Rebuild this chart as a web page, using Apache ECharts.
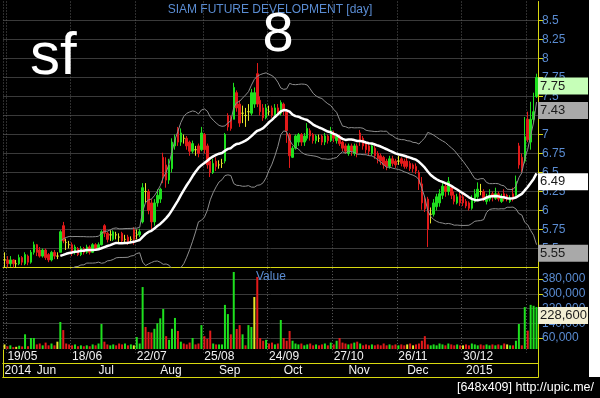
<!DOCTYPE html>
<html>
<head>
<meta charset="utf-8">
<title>SF daily</title>
<script src="https://cdn.jsdelivr.net/npm/echarts@6/dist/echarts.min.js"></script>
<style>
  html, body { margin: 0; padding: 0; background: #000; }
  #sfchart { width: 600px; height: 398px; }
</style>
</head>
<body>
<div id="sfchart"></div>
<script>
// SIAM FUTURE DEVELOPMENT (sf), daily bars 16/05/2014 - 06/02/2015
var holidays = ['2014-07-01', '2014-07-11', '2014-08-12', '2014-10-23', '2014-12-05',
  '2014-12-10', '2014-12-31', '2015-01-01', '2015-01-02'];
var tickDays = ['2014-05-19', '2014-06-18', '2014-07-22', '2014-08-25', '2014-09-24',
  '2014-10-27', '2014-11-26', '2014-12-30', '2015-02-03'];
var monthNames = ['Jan', 'Feb', 'Mar', 'Apr', 'May', 'Jun', 'Jul', 'Aug', 'Sep', 'Oct', 'Nov', 'Dec'];

var opens = [
  5.35, 5.35, 5.30, 5.35, 5.30, 5.30, 5.38, 5.30, 5.40, 5.32,
  5.45, 5.55, 5.48, 5.40, 5.48, 5.42, 5.35, 5.45, 5.40, 5.45,
  5.80, 5.58, 5.55, 5.55, 5.45, 5.50, 5.42, 5.50, 5.45, 5.52,
  5.45, 5.55, 5.50, 5.55, 5.80, 5.70, 5.68, 5.62, 5.68, 5.65,
  5.70, 5.62, 5.65, 5.62, 5.75, 5.68, 5.68, 5.85, 6.25, 6.25,
  6.10, 5.85, 6.10, 6.15, 6.70, 6.60, 6.40, 6.55, 6.85, 7.08,
  6.90, 6.95, 6.95, 6.90, 6.78, 6.80, 6.85, 6.80, 7.00, 6.85,
  6.65, 6.50, 6.65, 6.60, 6.62, 6.65, 7.25, 7.22, 7.20, 7.55,
  7.40, 7.28, 7.25, 7.30, 7.28, 7.40, 7.80, 7.45, 7.35, 7.22,
  7.30, 7.35, 7.25, 7.35, 7.28, 7.40, 7.30, 7.00, 6.70, 6.82,
  6.90, 7.00, 6.90, 6.95, 7.05, 7.00, 6.92, 6.95, 6.98, 6.90,
  6.98, 6.92, 7.02, 6.92, 6.98, 6.90, 6.85, 6.75, 6.85, 6.75,
  6.85, 7.02, 6.95, 6.88, 6.85, 6.75, 6.82, 6.75, 6.72, 6.70,
  6.65, 6.58, 6.68, 6.65, 6.65, 6.68, 6.65, 6.65, 6.62, 6.60,
  6.58, 6.50, 6.35, 6.15, 6.15, 5.95, 5.95, 6.05, 6.10, 6.20,
  6.32, 6.25, 6.30, 6.20, 6.10, 6.20, 6.18, 6.12, 6.10, 6.03,
  6.12, 6.18, 6.25, 6.25, 6.12, 6.15, 6.22, 6.16, 6.22, 6.12,
  6.22, 6.20, 6.12, 6.22, 6.20, 6.85, 6.70, 6.65, 7.20, 6.90,
  7.20, 7.50
];
var closes = [
  5.35, 5.30, 5.35, 5.30, 5.30, 5.38, 5.32, 5.42, 5.32, 5.45,
  5.55, 5.45, 5.40, 5.48, 5.38, 5.35, 5.45, 5.40, 5.40, 5.72,
  5.60, 5.58, 5.55, 5.45, 5.52, 5.42, 5.50, 5.45, 5.52, 5.45,
  5.55, 5.50, 5.55, 5.72, 5.70, 5.62, 5.68, 5.72, 5.68, 5.65,
  5.60, 5.62, 5.58, 5.62, 5.62, 5.68, 5.72, 6.30, 6.25, 6.00,
  5.85, 6.10, 6.20, 6.28, 6.45, 6.40, 6.60, 6.90, 6.95, 6.90,
  7.02, 6.95, 6.85, 6.78, 6.88, 6.80, 6.75, 7.02, 6.80, 6.60,
  6.50, 6.62, 6.58, 6.60, 6.62, 7.00, 7.10, 7.08, 7.62, 7.35,
  7.15, 7.28, 7.25, 7.30, 7.55, 7.55, 7.40, 7.30, 7.22, 7.35,
  7.30, 7.25, 7.35, 7.28, 7.42, 7.32, 7.05, 6.72, 6.82, 6.98,
  7.00, 6.90, 6.98, 7.08, 6.98, 6.92, 6.98, 6.95, 6.90, 6.98,
  6.92, 7.05, 6.95, 6.98, 6.88, 6.82, 6.78, 6.85, 6.78, 6.85,
  6.75, 6.92, 6.85, 6.80, 6.78, 6.85, 6.72, 6.68, 6.65, 6.60,
  6.58, 6.68, 6.62, 6.60, 6.65, 6.62, 6.58, 6.58, 6.55, 6.55,
  6.52, 6.35, 6.10, 6.02, 5.75, 5.95, 6.10, 6.18, 6.22, 6.32,
  6.25, 6.38, 6.20, 6.12, 6.18, 6.10, 6.10, 6.06, 6.03, 6.15,
  6.22, 6.28, 6.25, 6.15, 6.18, 6.20, 6.18, 6.22, 6.15, 6.16,
  6.15, 6.15, 6.16, 6.15, 6.38, 6.60, 6.55, 6.97, 6.93, 7.20,
  7.30, 7.75
];
var lows = [
  5.25, 5.25, 5.26, 5.25, 5.25, 5.28, 5.28, 5.28, 5.28, 5.30,
  5.42, 5.40, 5.38, 5.38, 5.35, 5.32, 5.33, 5.36, 5.36, 5.45,
  5.57, 5.48, 5.50, 5.40, 5.42, 5.40, 5.40, 5.42, 5.43, 5.42,
  5.44, 5.47, 5.48, 5.54, 5.65, 5.58, 5.60, 5.60, 5.62, 5.58,
  5.56, 5.56, 5.55, 5.57, 5.55, 5.62, 5.65, 5.83, 6.10, 5.95,
  5.74, 5.80, 6.05, 6.10, 6.36, 6.30, 6.35, 6.50, 6.80, 6.85,
  6.85, 6.88, 6.80, 6.72, 6.75, 6.72, 6.70, 6.78, 6.75, 6.55,
  6.44, 6.48, 6.52, 6.55, 6.56, 6.62, 7.05, 7.05, 7.20, 7.30,
  7.10, 7.15, 7.10, 7.18, 7.25, 7.35, 7.36, 7.25, 7.18, 7.20,
  7.25, 7.22, 7.22, 7.25, 7.25, 7.25, 6.89, 6.56, 6.69, 6.80,
  6.85, 6.85, 6.85, 6.92, 6.92, 6.88, 6.88, 6.90, 6.86, 6.86,
  6.88, 6.90, 6.90, 6.88, 6.85, 6.78, 6.75, 6.72, 6.72, 6.72,
  6.70, 6.85, 6.80, 6.75, 6.72, 6.72, 6.68, 6.62, 6.60, 6.55,
  6.53, 6.55, 6.58, 6.56, 6.60, 6.58, 6.55, 6.55, 6.52, 6.50,
  6.48, 6.27, 6.01, 5.98, 5.52, 5.83, 5.92, 6.00, 6.05, 6.15,
  6.18, 6.20, 6.15, 6.08, 6.08, 6.06, 6.06, 6.03, 6.00, 6.01,
  6.10, 6.15, 6.20, 6.12, 6.08, 6.12, 6.12, 6.14, 6.12, 6.10,
  6.12, 6.12, 6.10, 6.12, 6.18, 6.55, 6.50, 6.62, 6.90, 6.80,
  7.15, 7.48
];
var highs = [
  5.45, 5.40, 5.40, 5.36, 5.35, 5.42, 5.40, 5.45, 5.42, 5.48,
  5.59, 5.56, 5.52, 5.50, 5.50, 5.44, 5.47, 5.48, 5.45, 5.74,
  5.85, 5.63, 5.60, 5.58, 5.55, 5.52, 5.53, 5.52, 5.55, 5.54,
  5.57, 5.57, 5.58, 5.74, 5.82, 5.72, 5.74, 5.74, 5.72, 5.70,
  5.72, 5.68, 5.68, 5.66, 5.78, 5.75, 5.76, 6.36, 6.36, 6.28,
  6.15, 6.15, 6.28, 6.30, 6.76, 6.70, 6.68, 6.95, 7.00, 7.10,
  7.08, 7.00, 6.98, 6.92, 6.92, 6.85, 6.88, 7.10, 7.02, 6.88,
  6.70, 6.68, 6.70, 6.66, 6.68, 7.02, 7.28, 7.25, 7.68, 7.58,
  7.45, 7.38, 7.35, 7.40, 7.60, 7.62, 7.94, 7.50, 7.40, 7.40,
  7.38, 7.38, 7.40, 7.40, 7.45, 7.42, 7.32, 7.02, 6.85, 7.00,
  7.02, 7.02, 7.02, 7.15, 7.08, 7.02, 7.00, 7.00, 7.00, 7.02,
  7.00, 7.10, 7.05, 7.00, 7.00, 6.92, 6.88, 6.88, 6.88, 6.88,
  6.88, 7.06, 6.98, 6.90, 6.88, 6.88, 6.85, 6.78, 6.75, 6.72,
  6.68, 6.72, 6.72, 6.68, 6.72, 6.70, 6.68, 6.72, 6.65, 6.62,
  6.62, 6.53, 6.44, 6.18, 6.18, 6.04, 6.15, 6.22, 6.28, 6.38,
  6.35, 6.44, 6.32, 6.25, 6.22, 6.25, 6.22, 6.15, 6.12, 6.20,
  6.28, 6.37, 6.35, 6.28, 6.22, 6.28, 6.25, 6.30, 6.25, 6.22,
  6.28, 6.22, 6.20, 6.30, 6.46, 6.89, 6.75, 7.23, 7.30, 7.43,
  7.55, 7.80
];
var volumes = [
  25000, 15000, 20000, 10000, 12000, 18000, 14000, 80000, 15000, 60000,
  60000, 25000, 30000, 20000, 35000, 20000, 30000, 20000, 40000, 147000,
  103000, 30000, 25000, 20000, 25000, 15000, 20000, 15000, 20000, 15000,
  25000, 20000, 30000, 136000, 40000, 25000, 20000, 25000, 20000, 30000,
  25000, 30000, 20000, 25000, 20000, 65000, 30000, 337000, 120000, 93000,
  90000, 110000, 140000, 167000, 218000, 70000, 50000, 110000, 169000, 98000,
  40000, 30000, 25000, 35000, 60000, 25000, 30000, 130000, 70000, 55000,
  100000, 30000, 25000, 25000, 25000, 240000, 190000, 80000, 419000, 109000,
  130000, 80000, 20000, 130000, 120000, 283000, 392000, 60000, 45000, 50000,
  30000, 35000, 25000, 30000, 158000, 60000, 45000, 98000, 45000, 30000,
  25000, 30000, 20000, 25000, 30000, 20000, 25000, 20000, 25000, 30000,
  20000, 35000, 25000, 45000, 60000, 35000, 30000, 25000, 30000, 35000,
  40000, 30000, 20000, 25000, 20000, 25000, 20000, 25000, 20000, 30000,
  20000, 25000, 20000, 25000, 20000, 25000, 20000, 25000, 30000, 20000,
  25000, 30000, 45000, 70000, 25000, 20000, 25000, 20000, 30000, 25000,
  20000, 30000, 25000, 20000, 25000, 20000, 20000, 25000, 20000, 30000,
  25000, 20000, 25000, 20000, 25000, 20000, 25000, 20000, 25000, 20000,
  30000, 25000, 20000, 20000, 45000, 136000, 20000, 228000, 100000, 240000,
  235000, 228600
];

// trading days
var dates = [];
(function () {
  var d = new Date(Date.UTC(2014, 4, 16));
  var end = Date.UTC(2015, 1, 6);
  while (d.getTime() <= end) {
    var iso = d.toISOString().slice(0, 10);
    var wd = d.getUTCDay();
    if (wd !== 0 && wd !== 6 && holidays.indexOf(iso) < 0) dates.push(iso);
    d.setUTCDate(d.getUTCDate() + 1);
  }
})();

// bollinger 20, 2
var ma = [], bbUp = [], bbLow = [];
for (var i = 0; i < closes.length; i++) {
  if (i < 19) { ma.push('-'); bbUp.push('-'); bbLow.push('-'); continue; }
  var s = 0, v = 0, j;
  for (j = i - 19; j <= i; j++) s += closes[j];
  var m = s / 20;
  for (j = i - 19; j <= i; j++) v += (closes[j] - m) * (closes[j] - m);
  var sd = Math.sqrt(v / 20);
  ma.push(m); bbUp.push(m + 2 * sd); bbLow.push(m - 2 * sd);
}

var candles = opens.map(function (o, k) { return [o, closes[k], lows[k], highs[k]]; });

var GREEN = '#1ee01e', RED = '#e21a1a', YELLOW = '#e6e62a', AXIS = '#d8d810', BLUE = '#5a8cd2';

function isTick(idx) { return idx === 0 || tickDays.indexOf(dates[idx]) >= 0; }
function isMonth(idx) { return idx === 0 || dates[idx].slice(5, 7) !== dates[idx - 1].slice(5, 7); }
function commas(n) { return String(Math.round(n)).replace(/\B(?=(\d{3})+(?!\d))/g, ','); }

function boxLabel(bg, fmt) {
  return {
    show: true, distance: 1.5, align: 'left', verticalAlign: 'top',
    color: '#1a1a1a', fontSize: 13, lineHeight: 15, padding: [1, 2, 1, 2],
    width: 46, backgroundColor: bg, formatter: fmt
  };
}
function priceFmt(p) { return Number(p.value).toFixed(2); }

var splitV = {
  show: true, interval: function (idx) { return isTick(idx); },
  lineStyle: { color: '#5c5c5c', type: [1, 2], width: 1 }
};

var myChart = echarts.init(document.getElementById('sfchart'));
myChart.setOption({
  backgroundColor: '#000',
  animation: false,
  textStyle: { fontFamily: '"Liberation Sans", Arial, sans-serif' },
  grid: [
    { left: 3, right: 62, top: 1.5, height: 266, outerBoundsMode: 'none' },
    { left: 3, right: 62, top: 268.1, height: 84.6, outerBoundsMode: 'none' },
    { left: 3, right: 62, top: 350, height: 13, outerBoundsMode: 'none' },
    { left: 3, right: 62, top: 363, height: 14, outerBoundsMode: 'none' }
  ],
  xAxis: [
    {
      gridIndex: 0, type: 'category', data: dates, boundaryGap: true,
      axisLine: { lineStyle: { color: AXIS, width: 1 } },
      axisTick: { show: false }, axisLabel: { show: false }, splitLine: splitV
    },
    {
      gridIndex: 1, type: 'category', data: dates, boundaryGap: true,
      axisLine: { show: false }, axisTick: { show: false }, axisLabel: { show: false },
      splitLine: splitV
    },
    {
      gridIndex: 2, type: 'category', data: dates, position: 'top', boundaryGap: true,
      axisLine: { lineStyle: { color: AXIS } },
      axisTick: { inside: true, length: 13, lineStyle: { color: AXIS }, interval: function (idx) { return isTick(idx); } },
      axisLabel: {
        inside: true, margin: 1, color: '#f2f2f2', fontSize: 12, align: 'left',
        interval: function (idx) { return idx > 0 && isTick(idx) && dates[idx] !== tickDays[tickDays.length - 1]; },
        formatter: function (val) { return val.slice(8, 10) + '/' + val.slice(5, 7); }
      },
      splitLine: { show: false }
    },
    {
      gridIndex: 2, type: 'category', data: dates, position: 'bottom',
      axisLine: { lineStyle: { color: AXIS } }, axisTick: { show: false }, axisLabel: { show: false }
    },
    {
      gridIndex: 3, type: 'category', data: dates, position: 'top', boundaryGap: true,
      axisLine: { lineStyle: { color: AXIS } },
      axisTick: { inside: true, length: 14, lineStyle: { color: AXIS }, interval: function (idx) { return isMonth(idx); } },
      axisLabel: {
        inside: true, margin: 2, color: '#f2f2f2', fontSize: 12, align: 'left',
        interval: function (idx) { return isMonth(idx) && dates[idx].slice(0, 7) !== '2015-02'; },
        formatter: function (val, idx) {
          var mo = +val.slice(5, 7);
          return (idx === 0 || mo === 1) ? val.slice(0, 4) : monthNames[mo - 1];
        }
      },
      splitLine: { show: false }
    },
    {
      gridIndex: 3, type: 'category', data: dates, position: 'bottom',
      axisLine: { lineStyle: { color: AXIS } }, axisTick: { show: false }, axisLabel: { show: false }
    }
  ],
  yAxis: [
    {
      gridIndex: 0, type: 'value', position: 'right', min: 5.25, max: 8.75, interval: 0.25,
      axisLine: { show: true, lineStyle: { color: AXIS } },
      axisTick: { show: true, length: 5, lineStyle: { color: AXIS } },
      axisLabel: { color: BLUE, fontSize: 12, margin: 4, showMinLabel: false, showMaxLabel: false },
      splitLine: { show: true, showMinLine: false, showMaxLine: false, lineStyle: { color: '#3a3a3a' } }
    },
    {
      gridIndex: 1, type: 'value', position: 'right', min: -20000, max: 440000, interval: 80000,
      axisLine: { show: true, lineStyle: { color: AXIS } },
      axisTick: { show: true, length: 5, lineStyle: { color: AXIS } },
      axisLabel: { color: BLUE, fontSize: 12, margin: 4, showMinLabel: false, showMaxLabel: false, formatter: commas },
      splitLine: { show: true, showMinLine: false, showMaxLine: false, lineStyle: { color: '#3a3a3a' } }
    },
    { gridIndex: 2, type: 'value', position: 'left', axisLine: { show: true, lineStyle: { color: AXIS } }, axisTick: { show: false }, axisLabel: { show: false }, splitLine: { show: false } },
    { gridIndex: 2, type: 'value', position: 'right', axisLine: { show: true, lineStyle: { color: AXIS } }, axisTick: { show: false }, axisLabel: { show: false }, splitLine: { show: false } },
    { gridIndex: 3, type: 'value', position: 'left', axisLine: { show: true, lineStyle: { color: AXIS } }, axisTick: { show: false }, axisLabel: { show: false }, splitLine: { show: false } },
    { gridIndex: 3, type: 'value', position: 'right', axisLine: { show: true, lineStyle: { color: AXIS } }, axisTick: { show: false }, axisLabel: { show: false }, splitLine: { show: false } }
  ],
  series: [
    {
      name: 'sf', type: 'candlestick', xAxisIndex: 0, yAxisIndex: 0, data: candles,
      barWidth: 2,
      itemStyle: {
        color: GREEN, color0: RED, borderColor: GREEN, borderColor0: RED,
        borderColorDoji: YELLOW, borderWidth: 1
      }
    },
    {
      name: 'BB upper', type: 'line', xAxisIndex: 0, yAxisIndex: 0, data: bbUp,
      showSymbol: false, lineStyle: { color: '#8e8e8e', width: 1 },
      endLabel: boxLabel('#a9a9a9', priceFmt), z: 3
    },
    {
      name: 'BB lower', type: 'line', xAxisIndex: 0, yAxisIndex: 0, data: bbLow,
      showSymbol: false, lineStyle: { color: '#8e8e8e', width: 1 },
      endLabel: boxLabel('#a9a9a9', priceFmt), z: 3
    },
    {
      name: 'MA20', type: 'line', xAxisIndex: 0, yAxisIndex: 0, data: ma,
      showSymbol: false, lineStyle: { color: '#ffffff', width: 2.5 },
      endLabel: boxLabel('#ffffff', priceFmt), z: 4
    },
    {
      name: 'close', type: 'line', xAxisIndex: 0, yAxisIndex: 0, data: closes,
      showSymbol: false, lineStyle: { opacity: 0 },
      endLabel: boxLabel('#c6ffb8', priceFmt), z: 5
    },
    {
      name: 'Value', type: 'bar', xAxisIndex: 1, yAxisIndex: 1, data: volumes,
      barWidth: 2,
      itemStyle: {
        color: function (p) {
          var k = p.dataIndex;
          var prev = k > 0 ? closes[k - 1] : opens[k];
          return closes[k] > prev ? GREEN : (closes[k] < prev ? RED : YELLOW);
        }
      }
    },
    {
      name: 'volume tag', type: 'line', xAxisIndex: 1, yAxisIndex: 1, data: volumes,
      showSymbol: false, lineStyle: { opacity: 0 },
      endLabel: boxLabel('#f2eed2', function (p) { return commas(p.value); }), z: 5
    }
  ],
  graphic: [
    { type: 'rect', shape: { x: 589, y: 0, width: 11, height: 377 }, style: { fill: '#ffffff' }, z: 1 },
    { type: 'text', x: 270, y: 9.5, z: 10, style: { text: 'SIAM FUTURE DEVELOPMENT [day]', fill: BLUE, font: '12px "Liberation Sans"', align: 'center', verticalAlign: 'middle' } },
    { type: 'text', x: 30, y: 57, z: 10, style: { text: 'sf', fill: '#ffffff', font: '60px "Liberation Sans"', align: 'left', verticalAlign: 'middle' } },
    { type: 'text', x: 262.5, y: 36, z: 10, style: { text: '8', fill: '#ffffff', font: '56px "Liberation Sans"', align: 'left', verticalAlign: 'middle' } },
    { type: 'text', x: 256, y: 276.5, z: 10, style: { text: 'Value', fill: BLUE, font: '12px "Liberation Sans"', align: 'left', verticalAlign: 'middle' } },
    { type: 'text', x: 594, y: 387.5, z: 10, style: { text: '[648x409] http://upic.me/', fill: '#ffffff', font: '12.5px "Liberation Sans"', align: 'right', verticalAlign: 'middle' } }
  ]
});
</script>
</body>
</html>
